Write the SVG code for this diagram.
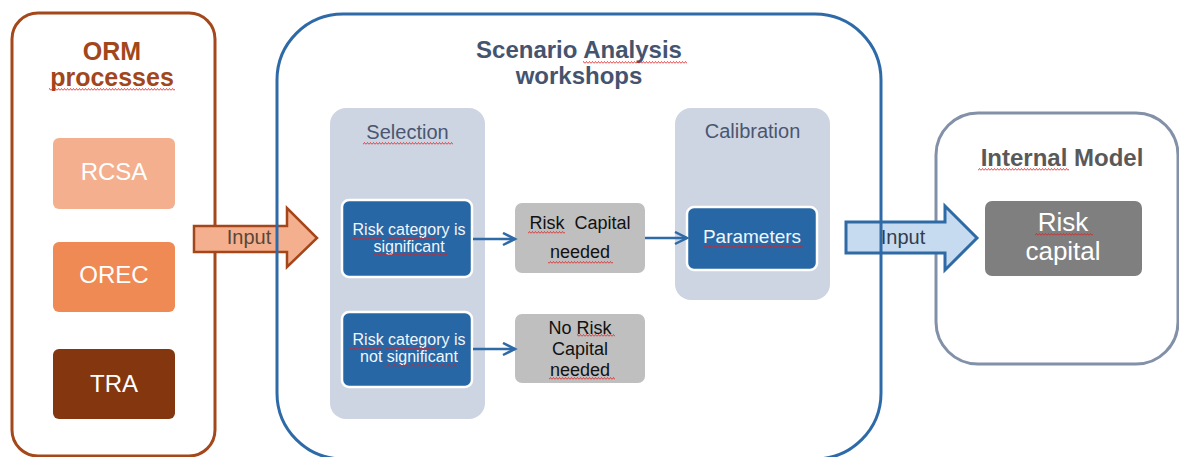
<svg xmlns="http://www.w3.org/2000/svg" width="1179" height="457" viewBox="0 0 1179 457">
  <defs>
    <style>
      text { font-family: "Liberation Sans", Arial, sans-serif; text-anchor: middle; }
      .frame { fill: none; stroke-width: 3; }
      .orm-title { font-size: 25px; font-weight: bold; fill: #a2461b; }
      .sa-title { font-size: 24px; font-weight: bold; fill: #44546f; }
      .im-title { font-size: 24px; font-weight: bold; fill: #595959; }
      .proc { font-size: 24px; fill: #ffffff; }
      .panel { fill: #cdd5e2; }
      .panel-title { font-size: 20px; fill: #4a5671; }
      .bluebox { fill: #2767a5; stroke: #ffffff; stroke-width: 2.5; }
      .bluetext { font-size: 16px; fill: #f2f6fc; }
      .paramtext { font-size: 19px; fill: #f2f6fc; }
      .graybox { fill: #bfbfbf; }
      .graytext { font-size: 18px; fill: #111111; }
      .input-label { font-size: 20px; }
      .conn { fill: none; stroke: #2e6aa6; stroke-width: 2.5; }
      .squig { fill: url(#squig); }
    </style>
    <marker id="chev" markerUnits="userSpaceOnUse" markerWidth="16" markerHeight="16" refX="13" refY="7" orient="auto">
      <path d="M1,1 L13,7 L1,13" fill="none" stroke="#2e6aa6" stroke-width="2.5"/>
    </marker>
    <pattern id="squig" patternUnits="userSpaceOnUse" width="3" height="3">
      <path d="M0,2.5 L1.5,0.5 L3,2.5" fill="none" stroke="#e02020" stroke-width="0.8"/>
    </pattern>
  </defs>

  <g id="orm-processes">
    <rect class="frame" x="12" y="13" width="203" height="443" rx="26" stroke="#a4481c"/>
    <text class="orm-title" x="112" y="60">ORM</text>
    <text class="orm-title" x="112" y="86">processes</text>
  </g>
  <g id="rcsa">
    <rect x="53" y="138" width="122" height="71" rx="6" fill="#f4b08e"/>
    <text class="proc" x="114" y="180">RCSA</text>
  </g>
  <g id="orec">
    <rect x="53" y="242" width="122" height="70" rx="6" fill="#ef8a54"/>
    <text class="proc" x="114" y="283">OREC</text>
  </g>
  <g id="tra">
    <rect x="53" y="349" width="122" height="70" rx="6" fill="#84370f"/>
    <text class="proc" x="114" y="392">TRA</text>
  </g>

  <g id="internal-model">
    <rect class="frame" x="936" y="113" width="242" height="251" rx="42" stroke="#8391a8"/>
    <text class="im-title" x="1062" y="166">Internal Model</text>
  </g>
  <g id="risk-capital">
    <rect x="985" y="201" width="157" height="75" rx="7" fill="#7f7f7f"/>
    <text x="1063" y="231" font-size="26" fill="#ffffff">Risk</text>
    <text x="1063" y="260" font-size="26" fill="#ffffff">capital</text>
  </g>

  <g id="input-arrow-1">
    <polygon points="194,226 287,226 287,208 317,238 287,267 287,252 194,252" fill="#f4b08e" stroke="#a4461a" stroke-width="2.5" stroke-linejoin="miter"/>
    <text class="input-label" x="249" y="244" fill="#5a463a">Input</text>
  </g>
  <g id="input-arrow-2">
    <polygon points="846,222 945,222 945,206 977,238 945,270 945,253 846,253" fill="#c6dbf0" stroke="#2e6aa6" stroke-width="3" stroke-linejoin="miter"/>
    <text class="input-label" x="903" y="244" fill="#333d4d">Input</text>
  </g>

  <g id="scenario-analysis">
    <rect class="frame" x="277" y="14" width="604" height="445" rx="66" stroke="#2f6aa8"/>
    <text class="sa-title" x="579" y="58">Scenario Analysis</text>
    <text class="sa-title" x="579" y="84">workshops</text>
  </g>
  <g id="selection">
    <rect class="panel" x="330" y="108" width="155" height="311" rx="16"/>
    <text class="panel-title" x="407.5" y="139">Selection</text>
  </g>
  <g id="calibration">
    <rect class="panel" x="675" y="108" width="155" height="192" rx="16"/>
    <text class="panel-title" x="752.5" y="138">Calibration</text>
  </g>
  <g id="significant">
    <rect class="bluebox" x="342" y="200" width="130" height="77" rx="7"/>
    <text class="bluetext" x="409" y="235">Risk category is</text>
    <text class="bluetext" x="409" y="252">significant</text>
  </g>
  <g id="not-significant">
    <rect class="bluebox" x="342" y="312" width="130" height="75" rx="7"/>
    <text class="bluetext" x="409" y="345">Risk category is</text>
    <text class="bluetext" x="409" y="362">not significant</text>
  </g>
  <g id="capital-needed">
    <rect class="graybox" x="515" y="203" width="130" height="70" rx="7"/>
    <text class="graytext" x="580" y="229" word-spacing="5">Risk Capital</text>
    <text class="graytext" x="580" y="258">needed</text>
  </g>
  <g id="no-capital-needed">
    <rect class="graybox" x="515" y="314" width="130" height="69" rx="7"/>
    <text class="graytext" x="580" y="334">No Risk</text>
    <text class="graytext" x="580" y="355">Capital</text>
    <text class="graytext" x="580" y="376">needed</text>
  </g>
  <g id="parameters">
    <rect class="bluebox" x="687" y="207" width="130" height="63" rx="7"/>
    <text class="paramtext" x="752" y="243">Parameters</text>
  </g>

  <g id="connectors">
    <line class="conn" x1="473" y1="239" x2="515" y2="239" marker-end="url(#chev)"/>
    <line class="conn" x1="645" y1="238" x2="687" y2="238" marker-end="url(#chev)"/>
    <line class="conn" x1="473" y1="349" x2="515" y2="349" marker-end="url(#chev)"/>
  </g>

  <g id="spellcheck-marks">
    <rect class="squig" x="49" y="0" width="126" height="3" transform="translate(0,88)"/>
    <rect class="squig" x="583" y="0" width="104" height="3" transform="translate(0,61)"/>
    <rect class="squig" x="363" y="0" width="90" height="3" transform="translate(0,142)"/>
    <rect class="squig" x="352" y="0" width="30" height="3" transform="translate(0,237)"/>
    <rect class="squig" x="387" y="0" width="48" height="3" transform="translate(0,237)"/>
    <rect class="squig" x="373" y="0" width="74" height="3" transform="translate(0,253)"/>
    <rect class="squig" x="528" y="0" width="37" height="3" transform="translate(0,231)"/>
    <rect class="squig" x="548" y="0" width="65" height="3" transform="translate(0,261)"/>
    <rect class="squig" x="350" y="0" width="32" height="3" transform="translate(0,347)"/>
    <rect class="squig" x="385" y="0" width="50" height="3" transform="translate(0,347)"/>
    <rect class="squig" x="383" y="0" width="74" height="3" transform="translate(0,364)"/>
    <rect class="squig" x="577" y="0" width="38" height="3" transform="translate(0,334)"/>
    <rect class="squig" x="549" y="0" width="66" height="3" transform="translate(0,377)"/>
    <rect class="squig" x="703" y="0" width="100" height="3" transform="translate(0,245)"/>
    <rect class="squig" x="978" y="0" width="91" height="3" transform="translate(0,168)"/>
    <rect class="squig" x="1035" y="0" width="58" height="3" transform="translate(0,233)"/>
  </g>
</svg>
